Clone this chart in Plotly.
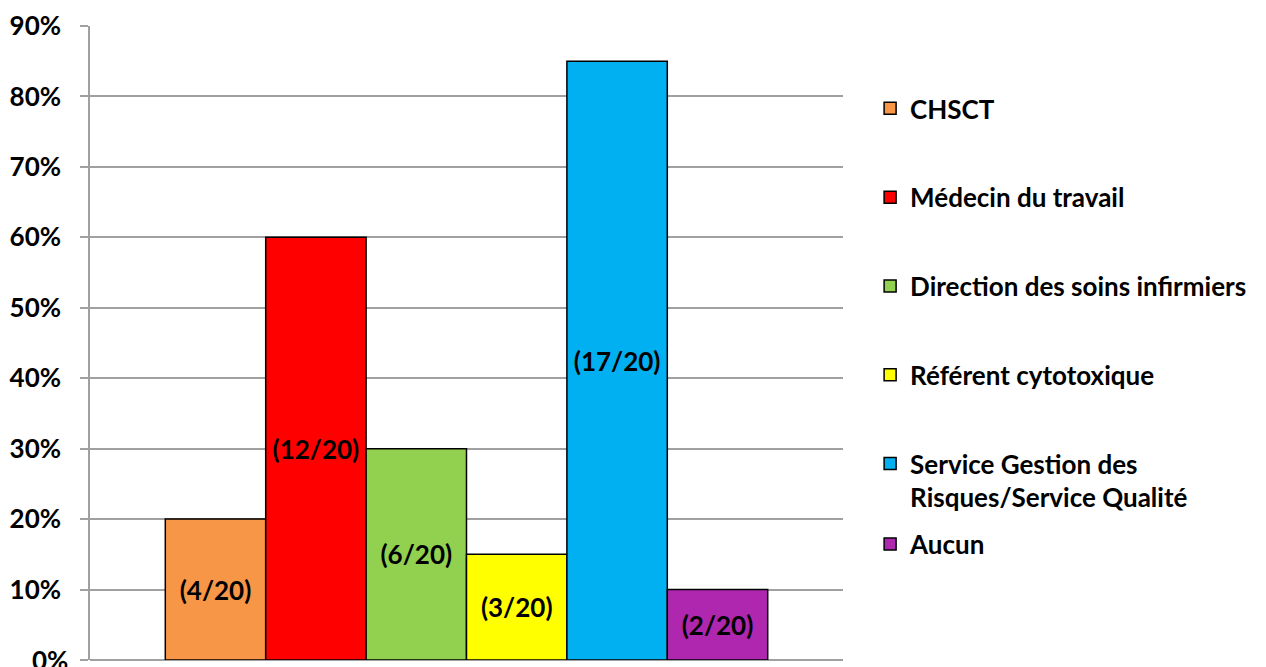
import plotly.graph_objects as go

categories = ["CHSCT", "Médecin du travail", "Direction des soins infirmiers",
              "Référent cytotoxique", "Service Gestion des<br>Risques/Service Qualité", "Aucun"]
values = [0.20, 0.60, 0.30, 0.15, 0.85, 0.10]
labels = ["(4/20)", "(12/20)", "(6/20)", "(3/20)", "(17/20)", "(2/20)"]
colors = ["#F79646", "#FF0000", "#92D050", "#FFFF00", "#00B0F0", "#AF26AF"]

FONT = "Lato"
FS = 26

fig = go.Figure()
n = len(categories)
for i, (c, v, t, col) in enumerate(zip(categories, values, labels, colors)):
    fig.add_trace(go.Bar(
        x=[0], y=[v], name=c, text=[t],
        textposition="inside", insidetextanchor="middle",
        constraintext="none",
        textfont=dict(family=FONT, size=FS, color="black", weight="bold"),
        marker=dict(color=col, line=dict(color="black", width=1.5)),
        legendgroup=f"g{i}",
        legend="legend2" if i == n - 1 else "legend",
        hoverinfo="skip",
    ))

legend_common = dict(
    xanchor="left", yanchor="top", valign="top",
    font=dict(family=FONT, size=FS, color="black", weight="bold"),
    itemwidth=30, bgcolor="rgba(0,0,0,0)",
)

fig.update_layout(
    width=1258, height=659,
    margin=dict(l=82, r=423, t=18, b=7, autoexpand=False),
    plot_bgcolor="white", paper_bgcolor="white",
    barmode="group", bargap=0.2, bargroupgap=0,
    font=dict(family=FONT, size=FS, color="black", weight="bold"),
    showlegend=True,
    legend=dict(x=1.036, y=0.907, traceorder="grouped", tracegroupgap=52, **legend_common),
    legend2=dict(x=1.036, y=0.22, **legend_common),
    xaxis=dict(range=[-0.5, 0.5], showticklabels=False, showgrid=False,
               zeroline=False, showline=False, ticks="", automargin=False),
    yaxis=dict(range=[0, 0.9], dtick=0.1, tickformat=".0%", automargin=False,
               showgrid=True, gridcolor="#A0A0A0", gridwidth=1.5,
               zeroline=True, zerolinecolor="#A0A0A0", zerolinewidth=1.5,
               showline=True, linecolor="#A0A0A0", linewidth=1.5,
               ticks="outside", ticklen=8, tickcolor="#A0A0A0", tickwidth=1.5,
               ticklabelstandoff=14,
               tickfont=dict(family=FONT, size=FS, color="black", weight="bold")),
    annotations=[dict(
        text="0%", xref="paper", x=0, xanchor="right", xshift=-20,
        yref="y", y=0, yanchor="middle", showarrow=False,
        font=dict(family=FONT, size=FS, color="black", weight="bold"),
    )],
)

fig.write_html("out.html")
